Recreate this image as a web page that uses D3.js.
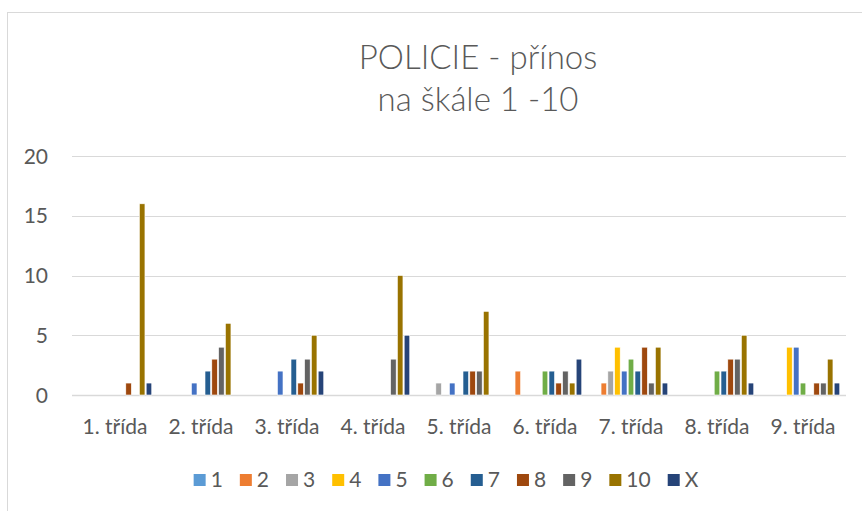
<!DOCTYPE html>
<html>
<head>
<meta charset="utf-8">
<script src="https://cdn.jsdelivr.net/npm/d3@7"></script>
<style>
  html, body { margin: 0; padding: 0; background: #fff; }
  svg { display: block; font-family: Lato, "Open Sans", sans-serif; }
</style>
</head>
<body>
<svg id="chart" width="862" height="511"></svg>
<script>
// třídy (kategorie osy x)
const classes = ['1. třída', '2. třída', '3. třída', '4. třída', '5. třída', '6. třída', '7. třída', '8. třída', '9. třída'];
// řady = hodnocení 1–10 a X
const seriesNames = ['1', '2', '3', '4', '5', '6', '7', '8', '9', '10', 'X'];
const s1  = [0, 0, 0, 0, 0, 0, 0, 0, 0];
const s2  = [0, 0, 0, 0, 0, 2, 1, 0, 0];
const s3  = [0, 0, 0, 0, 1, 0, 2, 0, 0];
const s4  = [0, 0, 0, 0, 0, 0, 4, 0, 4];
const s5  = [0, 1, 2, 0, 1, 0, 2, 0, 4];
const s6  = [0, 0, 0, 0, 0, 2, 3, 2, 1];
const s7  = [0, 2, 3, 0, 2, 2, 2, 2, 0];
const s8  = [1, 3, 1, 0, 2, 1, 4, 3, 1];
const s9  = [0, 4, 3, 3, 2, 2, 1, 3, 1];
const s10 = [16, 6, 5, 10, 7, 1, 4, 5, 3];
const sX  = [1, 0, 2, 5, 0, 3, 1, 1, 1];
const yTicks = [0, 5, 10, 15, 20];

const COLORS = ['#5B9BD5', '#ED7D31', '#A5A5A5', '#FFC000', '#4472C4', '#70AD47',
                '#255E91', '#9E480E', '#636363', '#997300', '#264478'];
const values = [s1, s2, s3, s4, s5, s6, s7, s8, s9, s10, sX];

const svg = d3.select('#chart');
const TEXT = '#595959';

// rámeček grafu
svg.append('rect').attr('x', 7.5).attr('y', 12.5).attr('width', 870).attr('height', 520)
  .attr('fill', 'none').attr('stroke', '#d9d9d9').attr('stroke-width', 1);

// titulek
const title = svg.append('text').attr('text-anchor', 'middle').attr('fill', TEXT)
  .attr('font-size', 33).attr('font-weight', 300);
title.append('tspan').attr('x', 478).attr('y', 69).text('POLICIE - přínos');
title.append('tspan').attr('x', 478).attr('y', 111).text('na škále 1 -10');

const plotL = 72, plotR = 846, plotT = 156, plotB = 395;
const x0 = d3.scaleBand().domain(classes).range([plotL, plotR]).paddingInner(0.117).paddingOuter(0.0585);
const x1 = d3.scaleBand().domain(seriesNames).range([0, x0.bandwidth()]).padding(0.18);
const y = d3.scaleLinear().domain([0, 20]).range([plotB, plotT]);

// mřížka
svg.append('g').selectAll('line').data(yTicks).join('line')
  .attr('x1', plotL).attr('x2', plotR)
  .attr('y1', d => Math.round(y(d)) + 0.5).attr('y2', d => Math.round(y(d)) + 0.5)
  .attr('stroke', '#d9d9d9').attr('stroke-width', d => d === 0 ? 1.5 : 1);

// osa y
svg.append('g').selectAll('text').data(yTicks).join('text')
  .attr('x', 48).attr('y', d => y(d)).attr('dy', '0.36em')
  .attr('text-anchor', 'end').attr('fill', TEXT).attr('font-size', 21).text(d => d);

// sloupce
const groups = svg.append('g').selectAll('g').data(classes).join('g')
  .attr('transform', d => `translate(${x0(d)},0)`);
groups.selectAll('rect')
  .data((c, ci) => seriesNames.map((s, si) => ({ s, si, v: values[si][ci] })).filter(d => d.v > 0))
  .join('rect')
  .attr('x', d => x1(d.s)).attr('width', x1.bandwidth())
  .attr('y', d => y(d.v)).attr('height', d => y(0) - y(d.v))
  .attr('fill', d => COLORS[d.si]).attr('stroke', '#fff').attr('stroke-width', 0.6);

// osa x popisky
svg.append('g').selectAll('text').data(classes).join('text')
  .attr('x', d => x0(d) + x0.bandwidth() / 2).attr('y', 434)
  .attr('text-anchor', 'middle').attr('fill', TEXT).attr('font-size', 21).text(d => d);

// legenda
const legend = svg.append('g');
const items = legend.selectAll('g').data(seriesNames).join('g');
items.append('rect').attr('width', 12).attr('height', 12).attr('y', -13)
  .attr('fill', (d, i) => COLORS[i]);
items.append('text').attr('x', 17).attr('fill', TEXT).attr('font-size', 21).attr('y', 0).text(d => d);
let cx = 0;
items.each(function () {
  const w = 17 + this.querySelector('text').getComputedTextLength();
  this._x = cx;
  cx += w + 17;
});
const total = cx - 17;
const lx0 = 446 - total / 2;
items.attr('transform', function () { return `translate(${lx0 + this._x},487)`; });
</script>
</body>
</html>
